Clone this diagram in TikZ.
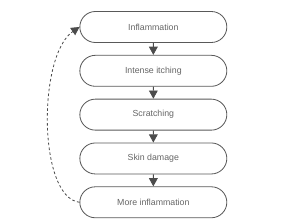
\documentclass[tikz,border=0pt]{standalone}
\usepackage{fontspec}
\setmainfont{Liberation Sans}
\usetikzlibrary{positioning, arrows.meta, shapes.misc}

\begin{document}
\begin{tikzpicture}[
	step box/.style={rounded rectangle, draw=black!65, line width=0.7pt, fill=white,
		minimum width=4.41cm, minimum height=0.93cm, inner sep=0pt,
		text=black!60, font=\fontsize{7.5}{9}\selectfont},
	flow arrow/.style={-{Triangle[length=7pt, width=7.5pt]}, line width=0.7pt, black!70},
	loop arrow/.style={-{Triangle[length=7pt, width=7.5pt]}, line width=0.7pt, black!70,
		dash pattern=on 2.2pt off 2pt},
	]
	
	\useasboundingbox (0,0) rectangle (9,6.69);
	
	% Chain of stages
	\node[step box] (inflam) at (4.6, 5.88) {Inflammation};
	\node[step box, below=0.36cm of inflam] (itch) {Intense itching};
	\node[step box, below=0.36cm of itch] (scratch) {Scratching};
	\node[step box, below=0.36cm of scratch] (damage) {Skin damage};
	\node[step box, below=0.36cm of damage] (more) {More inflammation};
	
	% Straight arrows between stages
	\draw[flow arrow] (inflam) -- (itch);
	\draw[flow arrow] (itch) -- (scratch);
	\draw[flow arrow] (scratch) -- (damage);
	\draw[flow arrow] (damage) -- (more);
	
	% Feedback loop
	\draw[loop arrow] (more.west) .. controls +(-1.25, 0.15) and +(-1.25, -0.85) .. (inflam.west);
	
\end{tikzpicture}
\end{document}
